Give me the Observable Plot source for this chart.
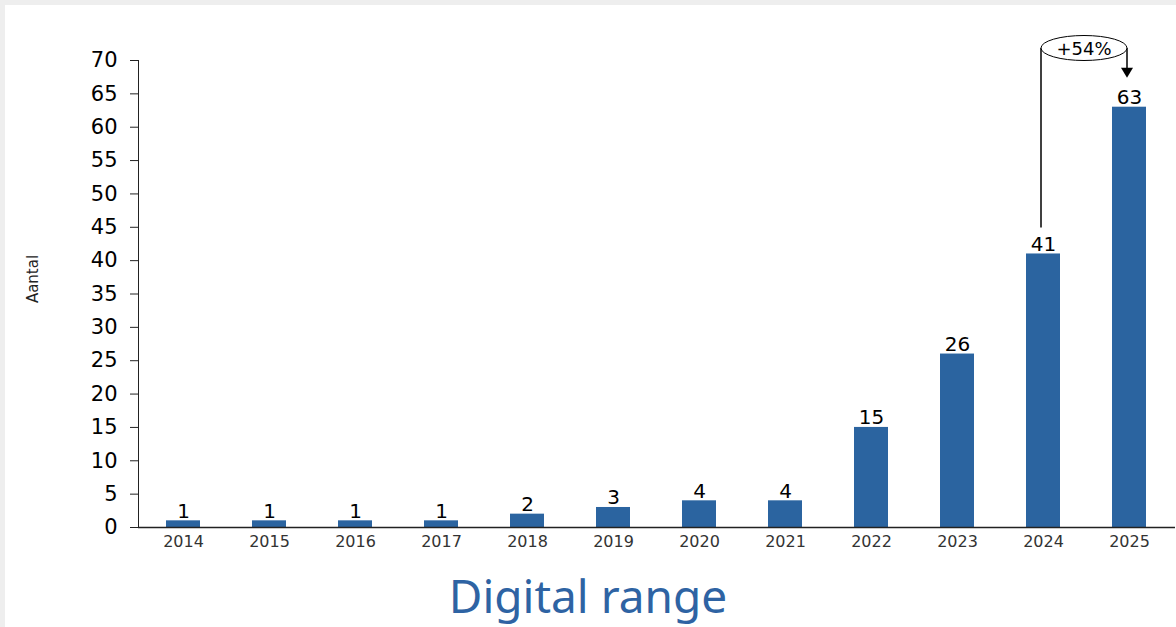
<!DOCTYPE html>
<html>
<head>
<meta charset="utf-8">
<script src="https://cdn.jsdelivr.net/npm/d3@7"></script>
<script src="https://cdn.jsdelivr.net/npm/@observablehq/plot@0.6"></script>
<style>
  html, body { margin: 0; padding: 0; }
  body { width: 1176px; height: 627px; background: #eeeeee; position: relative; overflow: hidden; }
  #panel { position: absolute; left: 5px; top: 5px; right: 0; bottom: 0; background: #ffffff; }
  #chart { position: absolute; left: 0; top: 0; }
  #ylabel { position: absolute; left: 33px; top: 279px; transform: translate(-50%, -50%) rotate(-90deg);
            font-family: "DejaVu Sans", sans-serif; font-size: 15px; color: #222; white-space: nowrap; }
  #title { position: absolute; left: 0; width: 1176px; top: 572px; text-align: center;
           font-family: "Noto Sans", sans-serif; font-size: 46px; line-height: 46px; color: #2e63a3; }
</style>
</head>
<body>
<div id="panel"></div>
<div id="chart"></div>
<div id="ylabel">Aantal</div>
<div id="title">Digital range</div>
<script>
const years = ["2014","2015","2016","2017","2018","2019","2020","2021","2022","2023","2024","2025"];
const counts = [1, 1, 1, 1, 2, 3, 4, 4, 15, 26, 41, 63];
const yTicks = [0, 5, 10, 15, 20, 25, 30, 35, 40, 45, 50, 55, 60, 65, 70];
const growthFrom = "2024";
const growthTo = "2025";
const growthLabel = "+54%";

const data = years.map((year, i) => ({year, count: counts[i]}));
const valueOf = y => counts[years.indexOf(y)];

const barColor = "#2b64a0";

function growthAnnotation(index, scales, values, dimensions, context) {
  const x = scales.x, y = scales.y;
  const bw = x.bandwidth ? x.bandwidth() : 0;
  const x1 = x(growthFrom) + bw / 2 - 2;
  const x2 = x(growthTo) + bw / 2 - 2;
  const yStart = y(valueOf(growthFrom)) - 26;
  const yTop = y(yTicks[yTicks.length - 1]) - 12;
  const yTip = y(valueOf(growthTo)) - 29;
  const g = d3.create("svg:g");
  g.append("path")
    .attr("d", `M${x1},${yStart}V${yTop}`)
    .attr("stroke", "#000").attr("stroke-width", 1.5).attr("fill", "none");
  g.append("path")
    .attr("d", `M${x2},${yTop}V${yTip - 9}`)
    .attr("stroke", "#000").attr("stroke-width", 1.5).attr("fill", "none");
  g.append("path")
    .attr("d", `M${x2 - 6},${yTip - 10}L${x2 + 6},${yTip - 10}L${x2},${yTip}Z`)
    .attr("fill", "#000");
  g.append("ellipse")
    .attr("cx", (x1 + x2) / 2).attr("cy", yTop)
    .attr("rx", (x2 - x1) / 2).attr("ry", 12.5)
    .attr("fill", "#fff").attr("stroke", "#000").attr("stroke-width", 1);
  g.append("text")
    .attr("x", (x1 + x2) / 2).attr("y", yTop)
    .attr("text-anchor", "middle").attr("dominant-baseline", "central")
    .attr("font-family", "DejaVu Sans, sans-serif").attr("font-size", 18)
    .attr("fill", "#000")
    .text(growthLabel);
  return g.node();
}

const plot = Plot.plot({
  width: 1176,
  height: 560,
  marginTop: 60,
  marginBottom: 33,
  marginLeft: 138,
  marginRight: 1,
  style: {background: "transparent", fontFamily: "DejaVu Sans, sans-serif", overflow: "visible"},
  x: {domain: years, paddingInner: 0.6, paddingOuter: 0.31, label: null},
  y: {domain: [0, 70], label: null},
  marks: [
    Plot.barY(data, {x: "year", y: "count", fill: barColor}),
    Plot.text(data, {x: "year", y: "count", text: d => String(d.count), lineAnchor: "bottom", dy: -3, fontSize: 20, fill: "#000"}),
    Plot.axisY({ticks: yTicks, tickSize: 8, tickPadding: 13, fontSize: 21, label: null, stroke: "#222", fill: "#000"}),
    Plot.axisX({tickSize: 0, tickPadding: 8, fontSize: 16, label: null, fill: "#333"}),
    Plot.frame({anchor: "left", stroke: "#222"}),
    Plot.ruleY([0], {stroke: "#222", strokeWidth: 1.5}),
    growthAnnotation
  ]
});
document.getElementById("chart").appendChild(plot);
</script>
</body>
</html>
